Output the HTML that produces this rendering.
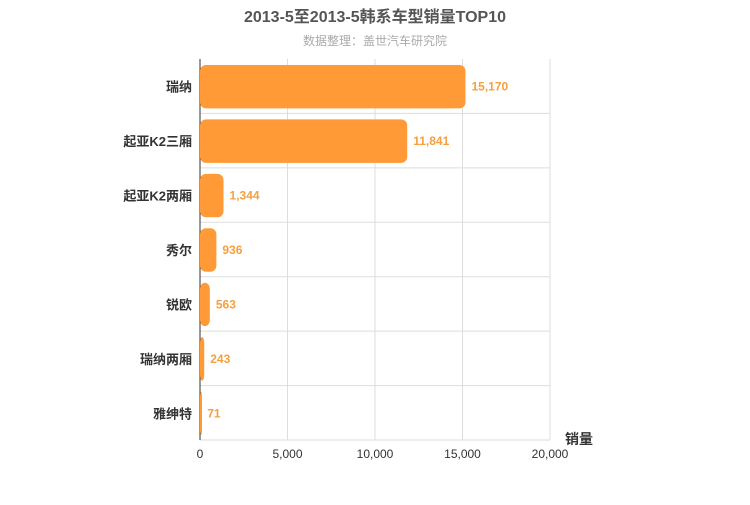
<!DOCTYPE html>
<html><head><meta charset="utf-8">
<style>
body{margin:0;background:#fff;}
svg text{font-family:"Liberation Sans","Noto Sans CJK SC",sans-serif;}
</style></head>
<body>
<svg id="chart" width="750" height="500" xmlns="http://www.w3.org/2000/svg">
<text x="375" y="22" text-anchor="middle" font-size="16" font-weight="bold" fill="#555">2013-5至2013-5韩系车型销量TOP10</text>
<text x="375" y="45" text-anchor="middle" font-size="12" fill="#aaa">数据整理：盖世汽车研究院</text>
<g id="grid"></g><g id="bars"></g><g id="labels"></g>
<text x="565" y="444" font-size="14" font-weight="bold" fill="#333">销量</text>
</svg>
<script>
const categories=["瑞纳","起亚K2三厢","起亚K2两厢","秀尔","锐欧","瑞纳两厢","雅绅特"];
const values=[15170,11841,1344,936,563,243,71];
const ticks=[0,5000,10000,15000,20000];
const tickLabels=["0","5,000","10,000","15,000","20,000"];
const NS="http://www.w3.org/2000/svg";
const X0=200,X1=550,Y0=59,Y1=440,MAX=20000;
const x=v=>X0+(X1-X0)*v/MAX;
const band=(Y1-Y0)/categories.length;
const y=i=>Y0+band*i;
function mk(t,a,p){const e=document.createElementNS(NS,t);for(const k in a)e.setAttribute(k,a[k]);p.appendChild(e);return e;}
const g=document.getElementById('grid'),b=document.getElementById('bars'),l=document.getElementById('labels');
ticks.forEach((t,i)=>{
 if(i>0){const ln=mk('line',{x1:x(t),x2:x(t),y1:Y0,y2:Y1,stroke:'#ddd'},g);
 
 }
 const tx=mk('text',{x:x(t),y:Y1+18,'text-anchor':'middle','font-size':12,fill:'#333'},g);
 tx.textContent=tickLabels[i];
 
 
});
for(let i=1;i<=categories.length;i++){
 const ln=mk('line',{x1:X0,x2:X1,y1:y(i),y2:y(i),stroke:'#ddd'},g);
 
 
}
const ax=mk('line',{x1:X0,x2:X0,y1:Y0,y2:Y1,stroke:'#333'},g);


categories.forEach((c,i)=>{
 const top=y(i)+6,h=band-11;
 const r=mk('rect',{x:X0,y:top,width:Math.max(x(values[i])-X0,2),height:h,rx:6,fill:'#ff9a36'},b);
 
 
 const t=mk('text',{x:192,y:top+h/2+5,'text-anchor':'end','font-size':13,'font-weight':'bold',fill:'#333'},l);
 t.textContent=c;
 
 
 const v=mk('text',{x:x(values[i])+6,y:top+h/2+4,'font-size':12,'font-weight':'bold',fill:'#f5a040'},l);
 v.textContent=values[i].toLocaleString('en-US');
 
 
});
</script>
</body></html>
